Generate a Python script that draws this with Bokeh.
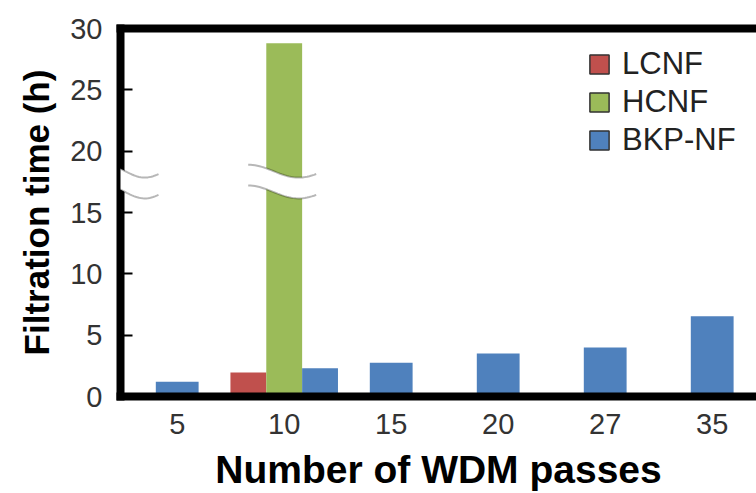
import math
from bokeh.plotting import figure
from bokeh.models import (Range1d, FixedTicker, LinearAxis, Legend, LegendItem,
                          PolyAnnotation, Title)
from bokeh.embed import file_html
from bokeh.resources import INLINE

# ---------------- data ----------------
passes = ["5", "10", "15", "20", "27", "35"]
lcnf_time = [None, 1.95, None, None, None, None]
hcnf_time = [None, 28.8, None, None, None, None]
bkp_time = [1.2, 2.3, 2.75, 3.5, 4.0, 6.55]
series_names = ["LCNF", "HCNF", "BKP-NF"]
series_colors = ["#C0504D", "#9BBB59", "#4F81BD"]
y_ticks = [0, 5, 10, 15, 20, 25, 30]
break_top = 18.9       # upper edge of the axis break (h)
break_gap = 1.7        # distance between the two break waves (h)

FONT = "Liberation Sans"

p = figure(width=756, height=493, output_backend="svg", toolbar_location=None,
           x_range=Range1d(-0.53, 5.414), y_range=Range1d(0, 30),
           min_border_left=120, min_border_right=0, min_border_top=28,
           min_border_bottom=95)
p.xgrid.visible = False
p.ygrid.visible = False
p.outline_line_color = None
p.background_fill_color = "white"
p.border_fill_color = "white"

# ---------------- bars ----------------
all_series = [lcnf_time, hcnf_time, bkp_time]
legend_items = []
for s_idx, (name, vals, color) in enumerate(zip(series_names, all_series, series_colors)):
    xs, tops, widths = [], [], []
    for i in range(len(passes)):
        if vals[i] is None:
            continue
        present = [k for k in range(len(all_series)) if all_series[k][i] is not None]
        n = len(present)
        w = 0.40 if n == 1 else 0.335
        pos = present.index(s_idx)
        xs.append(i + (pos - (n - 1) / 2) * w)
        tops.append(vals[i])
        widths.append(w)
    p.vbar(x=xs, top=tops, width=widths, bottom=0, fill_color=color, line_color=None)
    # hidden twin with an outline, used only for the legend swatch
    proxy = p.vbar(x=xs, top=tops, width=widths, bottom=0, fill_color=color,
                   line_color="#333333", line_width=1.5, visible=False)
    legend_items.append(LegendItem(label=name, renderers=[proxy]))

legend = Legend(items=legend_items, location=(467, 238), glyph_width=24, glyph_height=24,
                label_text_font_size="31px", label_text_font=FONT,
                label_text_color="#222222", label_standoff=11, spacing=2,
                padding=0, margin=0, border_line_color=None,
                background_fill_alpha=0, label_height=24,
                inactive_fill_alpha=0)
p.add_layout(legend)

# ---------------- axes ----------------
yax = p.yaxis[0]
yax.ticker = FixedTicker(ticks=y_ticks)
yax.axis_line_width = 8
yax.axis_line_color = "black"
yax.axis_line_cap = "square"
yax.major_tick_in = 12
yax.major_tick_out = 0
yax.major_tick_line_width = 2
yax.major_tick_line_color = "black"
yax.minor_tick_line_color = None
yax.major_label_text_font = FONT
yax.major_label_text_font_size = "29px"
yax.major_label_text_color = "#333333"
yax.major_label_standoff = 18

p.add_layout(Title(text="Filtration time (h)", align="center", offset=31,
                   standoff=24, text_font=FONT, text_font_size="35px",
                   text_font_style="bold", text_color="black"), "left")

xax = p.xaxis[0]
xax.ticker = FixedTicker(ticks=list(range(len(passes))))
xax.major_label_overrides = {i: lab for i, lab in enumerate(passes)}
xax.axis_line_width = 8
xax.axis_line_color = "black"
xax.axis_line_cap = "square"
xax.major_tick_line_color = None
xax.minor_tick_line_color = None
xax.major_label_text_font = FONT
xax.major_label_text_font_size = "29px"
xax.major_label_text_color = "#333333"
xax.major_label_standoff = 11
xax.axis_label = "Number of WDM passes"
xax.axis_label_text_font = FONT
xax.axis_label_text_font_size = "39px"
xax.axis_label_text_font_style = "bold"
xax.axis_label_text_color = "black"
xax.axis_label_standoff = 11

top_axis = LinearAxis(ticker=FixedTicker(ticks=[]), axis_line_width=8,
                      axis_line_color="black", axis_line_cap="square",
                      major_tick_line_color=None, minor_tick_line_color=None,
                      major_label_text_font_size="0px")
p.add_layout(top_axis, "above")

# ---------------- axis-break marks ----------------
PX_PER_UNIT_Y = 370 / 30.0
PX_PER_UNIT_X = 107.0


def wave(x_left_px, x_right_px, x_ref, y_start):
    n = 30
    xs, ys = [], []
    for k in range(n + 1):
        t = k / n
        xs.append(x_ref + (x_left_px + t * (x_right_px - x_left_px)) / PX_PER_UNIT_X)
        drop = 13 * (math.sin(math.pi * (1.35 * t - 0.5)) + 1) / 2
        ys.append(y_start - drop / PX_PER_UNIT_Y)
    return xs, ys


x_axis_pos = p.x_range.start
hc_idx = next(i for i, v in enumerate(hcnf_time) if v is not None)
for x_ref, lpx, rpx in [(x_axis_pos, -15, 38), (hc_idx, -36, 32)]:
    ux, uy = wave(lpx, rpx, x_ref, break_top)
    lx, ly = wave(lpx, rpx, x_ref, break_top - break_gap)
    p.add_layout(PolyAnnotation(xs=ux + lx[::-1], ys=uy + ly[::-1],
                                fill_color="white", fill_alpha=1.0,
                                line_color=None))
    for wx, wy in [(ux, uy), (lx, ly)]:
        p.add_layout(PolyAnnotation(xs=wx + wx[::-1], ys=wy + wy[::-1],
                                    fill_alpha=0, line_color="#111111",
                                    line_width=2))

open("out.html", "w").write(file_html(p, INLINE))
